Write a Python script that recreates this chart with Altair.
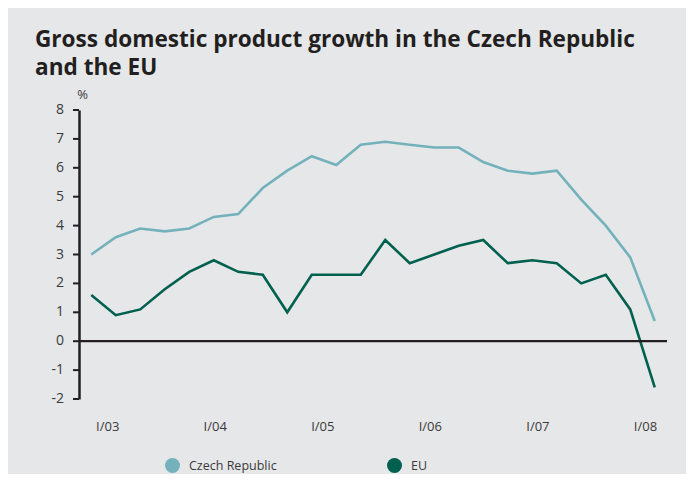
import altair as alt
import pandas as pd
import numpy as np

quarters = list(range(24))  # quarter index I/03 .. IV/08
czech = [3.0, 3.6, 3.9, 3.8, 3.9, 4.3, 4.4, 5.3, 5.9, 6.4, 6.1, 6.8,
         6.9, 6.8, 6.7, 6.7, 6.2, 5.9, 5.8, 5.9, 4.9, 4.0, 2.9, 0.7]
eu = [1.6, 0.9, 1.1, 1.8, 2.4, 2.8, 2.4, 2.3, 1.0, 2.3, 2.3, 2.3,
      3.5, 2.7, 3.0, 3.3, 3.5, 2.7, 2.8, 2.7, 2.0, 2.3, 1.1, -1.6]
series = ["Czech Republic", "EU"]
year_labels = ["I/03", "I/04", "I/05", "I/06", "I/07", "I/08"]
y_ticks = list(range(-2, 9))

df = pd.DataFrame({
    "q": quarters * 2,
    "value": czech + eu,
    "series": [series[0]] * 24 + [series[1]] * 24,
})
ticks_df = pd.DataFrame({"value": y_ticks, "label": [str(v) for v in y_ticks]})

label_pos = list(np.linspace(0.65, 22.6, len(year_labels)))
label_arr = "[" + ",".join(f"'{l}'" for l in year_labels) + "]"
step = (label_pos[-1] - label_pos[0]) / (len(year_labels) - 1)

FONT = "Open Sans"
INK = "#231f20"
LABEL = "#3a3a3a"

x_enc = alt.X("q:Q", scale=alt.Scale(domain=[-0.5, 23.5], nice=False, zero=False),
              axis=alt.Axis(values=label_pos, domain=False, ticks=False, grid=False,
                            labelExpr=f"{label_arr}[round((datum.value-{label_pos[0]})/{step})]",
                            labelPadding=21, labelFontSize=13, labelColor=LABEL,
                            labelFont=FONT, labelOverlap=False, title=None))
y_axis = alt.Axis(grid=False, domainColor=INK, domainWidth=2.5, ticks=False, labels=False,
                  title="%", titleAngle=0, titleX=3, titleY=-9, titleAlign="center",
                  titleBaseline="bottom", titleFontWeight="normal", titleFontSize=13,
                  titleColor=LABEL, titleFont=FONT)
y_scale = alt.Scale(domain=[-2, 8], nice=False)
color_scale = alt.Scale(domain=series, range=["#74b2bb", "#00604f"])
legend = alt.Legend(title=None, orient="none", direction="horizontal",
                    legendX=86, legendY=348, symbolType="circle",
                    symbolSize=225, symbolStrokeWidth=0, symbolOpacity=1,
                    labelFontSize=12.5, labelFont=FONT, labelColor=LABEL,
                    labelOffset=9, columnPadding=110)

lines = alt.Chart(df).mark_line(strokeWidth=2.6).encode(
    x=x_enc,
    y=alt.Y("value:Q", scale=y_scale, axis=y_axis),
    color=alt.Color("series:N", scale=color_scale, legend=legend),
    detail="series:N",
)

legend_pts = alt.Chart(df).mark_point(filled=True, opacity=0, size=1).encode(
    x=alt.X("q:Q"),
    y=alt.Y("value:Q"),
    color=alt.Color("series:N", scale=color_scale, legend=legend),
)

zero = alt.Chart(pd.DataFrame({"value": [0]})).mark_rule(color=INK, strokeWidth=2.2).encode(
    y=alt.Y("value:Q"))

y_tick_marks = alt.Chart(ticks_df).mark_rule(color=INK, strokeWidth=2).encode(
    y=alt.Y("value:Q"), x=alt.value(-6), x2=alt.value(0))

y_tick_labels = alt.Chart(ticks_df).mark_text(
    align="right", baseline="middle", fontSize=14, font=FONT, color=LABEL, dx=-15
).encode(y=alt.Y("value:Q"), x=alt.value(0), text="label:N")

chart = alt.layer(lines, legend_pts, zero, y_tick_marks, y_tick_labels).properties(
    width=588, height=289,
    autosize=alt.AutoSizeParams(type="none"),
    padding={"left": 71, "top": 102, "right": 19, "bottom": 75},
    title=alt.Title(["Gross domestic product growth in the Czech Republic", "and the EU"],
                    anchor="start", fontSize=22.6, font=FONT, fontWeight="bold",
                    color=INK, lineHeight=28, frame="group", dx=-44, offset=8),
).configure(background="#e6e7e9").configure_view(stroke=None, clip=False)

chart.save("out.html", embed_options={"renderer": "svg", "actions": False})
